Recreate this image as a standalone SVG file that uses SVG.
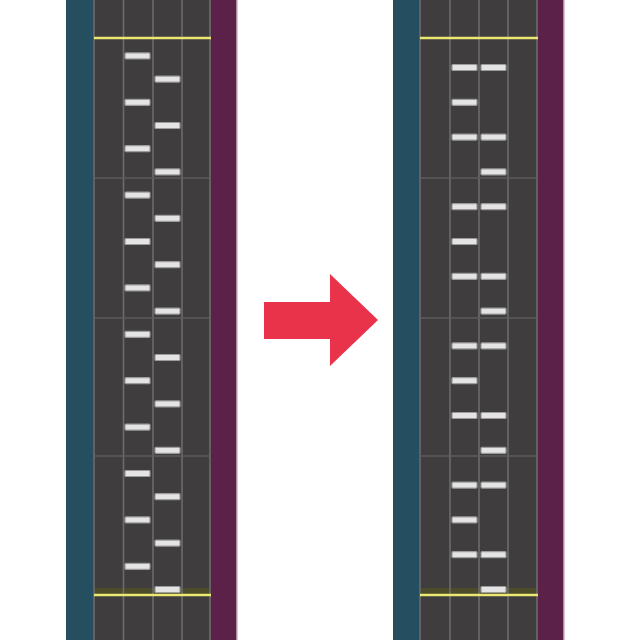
<svg xmlns="http://www.w3.org/2000/svg" xmlns:xlink="http://www.w3.org/1999/xlink" width="640" height="640" viewBox="0 0 640 640">
<style>
.teal{fill:#254f61}
.field{fill:#3f3d3e}
.purple{fill:#5c2149}
.edge{stroke:#cdb2c6;stroke-width:1.5}
.lane{stroke:#6d6b6c;stroke-width:1.6}
.measure{stroke:#5e5c5d;stroke-width:1.6}
.judge{stroke:#ece874;stroke-width:2.6}
.glow{fill:#55551e;opacity:0.6}
.note{fill:#e4e4e4;stroke:#9c9c9c;stroke-width:1.2}
.arrow{fill:#e8334a}
</style>
<defs>
<rect id="nL" class="note" x="0" y="-3" width="25" height="6" rx="1"/>
</defs>
<rect width="640" height="640" fill="#ffffff"/>
<g id="panel-before">
<rect class="teal" x="66" y="0" width="27" height="640"/>
<rect class="field" x="93" y="0" width="118" height="640"/>
<rect class="purple" x="211" y="0" width="26" height="640"/>
<line class="edge" x1="237" y1="0" x2="237" y2="640"/>
<rect class="glow" x="94" y="588" width="116" height="6"/>
<g class="lanes">
<line class="lane" x1="94" y1="0" x2="94" y2="640"/>
<line class="lane" x1="123.5" y1="0" x2="123.5" y2="640"/>
<line class="lane" x1="153" y1="0" x2="153" y2="640"/>
<line class="lane" x1="182" y1="0" x2="182" y2="640"/>
<line class="lane" x1="210" y1="0" x2="210" y2="640"/>
</g>
<line class="measure" x1="94" y1="178" x2="210" y2="178"/>
<line class="measure" x1="94" y1="318" x2="210" y2="318"/>
<line class="measure" x1="94" y1="456" x2="210" y2="456"/>
<line class="judge" x1="94" y1="38" x2="211" y2="38"/>
<line class="judge" x1="94" y1="595" x2="211" y2="595"/>
<g class="notes">
<use xlink:href="#nL" x="125" y="55.9"/>
<use xlink:href="#nL" x="155" y="79.1"/>
<use xlink:href="#nL" x="125" y="102.3"/>
<use xlink:href="#nL" x="155" y="125.5"/>
<use xlink:href="#nL" x="125" y="148.7"/>
<use xlink:href="#nL" x="155" y="171.9"/>
<use xlink:href="#nL" x="125" y="195.1"/>
<use xlink:href="#nL" x="155" y="218.3"/>
<use xlink:href="#nL" x="125" y="241.5"/>
<use xlink:href="#nL" x="155" y="264.7"/>
<use xlink:href="#nL" x="125" y="287.9"/>
<use xlink:href="#nL" x="155" y="311.1"/>
<use xlink:href="#nL" x="125" y="334.3"/>
<use xlink:href="#nL" x="155" y="357.5"/>
<use xlink:href="#nL" x="125" y="380.7"/>
<use xlink:href="#nL" x="155" y="403.9"/>
<use xlink:href="#nL" x="125" y="427.1"/>
<use xlink:href="#nL" x="155" y="450.3"/>
<use xlink:href="#nL" x="125" y="473.5"/>
<use xlink:href="#nL" x="155" y="496.7"/>
<use xlink:href="#nL" x="125" y="519.9"/>
<use xlink:href="#nL" x="155" y="543.1"/>
<use xlink:href="#nL" x="125" y="566.3"/>
<use xlink:href="#nL" x="155" y="589.5"/>
</g>
</g>
<g id="panel-after">
<rect class="teal" x="393" y="0" width="26" height="640"/>
<rect class="field" x="419" y="0" width="118" height="640"/>
<rect class="purple" x="537" y="0" width="27" height="640"/>
<line class="edge" x1="564" y1="0" x2="564" y2="640"/>
<rect class="glow" x="420" y="588" width="117" height="6"/>
<g class="lanes">
<line class="lane" x1="420" y1="0" x2="420" y2="640"/>
<line class="lane" x1="450" y1="0" x2="450" y2="640"/>
<line class="lane" x1="479" y1="0" x2="479" y2="640"/>
<line class="lane" x1="508" y1="0" x2="508" y2="640"/>
<line class="lane" x1="537" y1="0" x2="537" y2="640"/>
</g>
<line class="measure" x1="420" y1="178" x2="537" y2="178"/>
<line class="measure" x1="420" y1="318" x2="537" y2="318"/>
<line class="measure" x1="420" y1="456" x2="537" y2="456"/>
<line class="judge" x1="420" y1="38" x2="538" y2="38"/>
<line class="judge" x1="420" y1="595" x2="538" y2="595"/>
<g class="notes">
<use xlink:href="#nL" x="452" y="67.5"/><use xlink:href="#nL" x="481" y="67.5"/>
<use xlink:href="#nL" x="452" y="102.3"/>
<use xlink:href="#nL" x="452" y="137.1"/><use xlink:href="#nL" x="481" y="137.1"/>
<use xlink:href="#nL" x="481" y="171.9"/>
<use xlink:href="#nL" x="452" y="206.7"/><use xlink:href="#nL" x="481" y="206.7"/>
<use xlink:href="#nL" x="452" y="241.5"/>
<use xlink:href="#nL" x="452" y="276.3"/><use xlink:href="#nL" x="481" y="276.3"/>
<use xlink:href="#nL" x="481" y="311.1"/>
<use xlink:href="#nL" x="452" y="345.9"/><use xlink:href="#nL" x="481" y="345.9"/>
<use xlink:href="#nL" x="452" y="380.7"/>
<use xlink:href="#nL" x="452" y="415.5"/><use xlink:href="#nL" x="481" y="415.5"/>
<use xlink:href="#nL" x="481" y="450.3"/>
<use xlink:href="#nL" x="452" y="485.1"/><use xlink:href="#nL" x="481" y="485.1"/>
<use xlink:href="#nL" x="452" y="519.9"/>
<use xlink:href="#nL" x="452" y="554.7"/><use xlink:href="#nL" x="481" y="554.7"/>
<use xlink:href="#nL" x="481" y="589.5"/>
</g>
</g>
<g id="arrow">
<polygon class="arrow" points="264,302 330,302 330,274 378,320 330,366 330,339 264,339"/>
</g>
</svg>
